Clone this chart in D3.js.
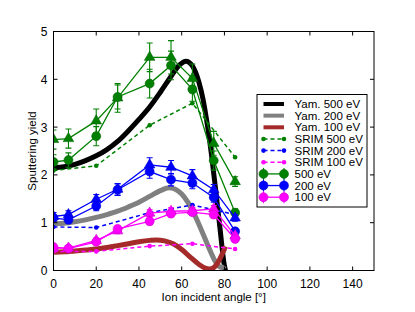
<!DOCTYPE html>
<html>
<head>
<meta charset="utf-8">
<script src="https://cdn.jsdelivr.net/npm/d3@7"></script>
<style>
  body { margin: 0; background: #fff; }
  svg { font-family: "Liberation Sans", Arial, sans-serif; }
</style>
</head>
<body>
<div id="chart"></div>
<script>
// measured angles
const angles = [0, 7, 20, 30, 45, 55, 65, 75, 85];
const srimAngles = [0, 20, 45, 65, 85];

// Yamamura fits [angle, yield]
const yam500 = [[0, 2.15], [5, 2.17], [10, 2.22], [15, 2.3], [20, 2.4], [25, 2.53], [30, 2.7], [35, 2.92], [40, 3.16], [45, 3.42], [50, 3.73], [55, 4.06], [59, 4.3], [62, 4.38], [65, 4.28], [68, 3.95], [70, 3.58], [72, 3.05], [74, 2.4], [76, 1.65], [78, 0.85], [80, 0.1], [80.5, 0]];
const yam200 = [[0, 0.98], [5, 0.99], [10, 1.02], [15, 1.06], [20, 1.11], [25, 1.17], [30, 1.24], [35, 1.33], [40, 1.43], [45, 1.55], [50, 1.67], [54, 1.73], [57, 1.7], [60, 1.6], [63, 1.42], [66, 1.17], [69, 0.87], [72, 0.55], [75, 0.25], [77, 0.1], [79, 0.06], [80, 0.1]];
const yam100 = [[0, 0.38], [5, 0.39], [10, 0.41], [15, 0.43], [20, 0.45], [25, 0.48], [30, 0.52], [35, 0.56], [40, 0.6], [45, 0.63], [48, 0.64], [52, 0.62], [56, 0.56], [60, 0.44], [64, 0.28], [68, 0.13], [71, 0.05], [73, 0.03], [75, 0.06], [77, 0.17], [79, 0.35], [80.5, 0.5]];

// SRIM
const srim500 = [2.09, 2.19, 3.04, 3.5, 2.37];
const srim200 = [0.91, 0.9, 1.21, 1.37, 1.17];
const srim100 = [0.4, 0.4, 0.51, 0.56, 0.45];

// measurements: circles and triangles
const meas500c = [2.27, 2.31, 2.81, 3.63, 3.91, 4.29, 3.79, 2.3, 1.21];
const err500c = [0.15, 0.15, 0.2, 0.25, 0.3, 0.3, 0.25, 0.2, 0.08];
const meas500t = [2.74, 2.76, 3.13, 3.61, 4.46, 4.46, 4.02, 2.66, 1.86];
const err500t = [0.2, 0.2, 0.25, 0.3, 0.3, 0.35, 0.3, 0.25, 0.1];
const meas200c = [1.1, 1.06, 1.35, 1.69, 2.07, 1.9, 1.83, 1.53, 0.82];
const err200c = [0.07, 0.07, 0.1, 0.12, 0.14, 0.13, 0.12, 0.1, 0.06];
const meas200t = [1.13, 1.17, 1.49, 1.7, 2.21, 2.16, 1.98, 1.69, 1.1];
const err200t = [0.08, 0.08, 0.1, 0.12, 0.15, 0.14, 0.13, 0.11, 0.07];
const meas100c = [0.49, 0.46, 0.6, 0.87, 1.03, 1.19, 1.22, 1.17, 0.66];
const err100c = [0.04, 0.04, 0.05, 0.06, 0.07, 0.07, 0.07, 0.07, 0.05];
const meas100t = [0.47, 0.47, 0.63, 0.83, 1.2, 1.24, 1.25, 1.29, 0.73];
const err100t = [0.04, 0.04, 0.05, 0.06, 0.07, 0.07, 0.07, 0.07, 0.05];

const xTicks = [0, 20, 40, 60, 80, 100, 120, 140];
const yTicks = [0, 1, 2, 3, 4, 5];
const legendLabels = ['Yam. 500 eV', 'Yam. 200 eV', 'Yam. 100 eV', 'SRIM 500 eV', 'SRIM 200 eV', 'SRIM 100 eV', '500 eV', '200 eV', '100 eV'];

const width = 415, height = 312;
const padding = { top: 31.5, right: 41, bottom: 41.5, left: 53.5 };
const chartWidth = width - padding.left - padding.right;
const chartHeight = height - padding.top - padding.bottom;

const green = '#008000', blue = '#0000ff', magenta = '#ff00ff';

const svg = d3.select('#chart').append('svg')
    .attr('width', width)
    .attr('height', height);

const xScale = d3.scaleLinear().domain([0, 150]).range([0, chartWidth]);
const yScale = d3.scaleLinear().domain([0, 5]).range([chartHeight, 0]);

const g = svg.append('g')
    .attr('transform', `translate(${padding.left},${padding.top})`);

svg.append('defs').append('clipPath').attr('id', 'clip')
    .append('rect').attr('width', chartWidth).attr('height', chartHeight);

const plot = g.append('g').attr('clip-path', 'url(#clip)');

const curve = d3.line()
    .x(d => xScale(d[0]))
    .y(d => yScale(d[1]))
    .curve(d3.curveMonotoneX);

// Yamamura curves
[[yam500, '#000000'], [yam200, '#808080'], [yam100, '#a52a2a']].forEach(([data, color]) => {
    plot.append('path')
        .datum(data)
        .attr('fill', 'none')
        .attr('stroke', color)
        .attr('stroke-width', 5)
        .attr('d', curve);
});

// SRIM dashed
const straight = d3.line().x(d => xScale(d[0])).y(d => yScale(d[1]));
[[srim500, green], [srim200, blue], [srim100, magenta]].forEach(([vals, color]) => {
    const pts = srimAngles.map((a, i) => [a, vals[i]]);
    plot.append('path')
        .datum(pts)
        .attr('fill', 'none')
        .attr('stroke', color)
        .attr('stroke-width', 1.5)
        .attr('stroke-dasharray', '4,3')
        .attr('d', straight);
    plot.selectAll(null)
        .data(pts)
        .enter()
        .append('circle')
        .attr('cx', d => xScale(d[0]))
        .attr('cy', d => yScale(d[1]))
        .attr('r', 2.3)
        .attr('fill', color);
});

const triangle = d3.symbol().type(d3.symbolTriangle).size(48);

const drawMeasured = (vals, errs, color, shape) => {
    const pts = angles.map((a, i) => [a, vals[i], errs[i]]);
    plot.append('path')
        .datum(pts)
        .attr('fill', 'none')
        .attr('stroke', color)
        .attr('stroke-width', 1.3)
        .attr('d', straight);
    const eb = plot.append('g').attr('stroke', color).attr('stroke-width', 1.1);
    pts.forEach(d => {
        const x = xScale(d[0]);
        const y0 = yScale(d[1] - d[2]), y1 = yScale(d[1] + d[2]);
        eb.append('line').attr('x1', x).attr('x2', x).attr('y1', y0).attr('y2', y1);
        eb.append('line').attr('x1', x - 3).attr('x2', x + 3).attr('y1', y0).attr('y2', y0);
        eb.append('line').attr('x1', x - 3).attr('x2', x + 3).attr('y1', y1).attr('y2', y1);
    });
    const edge = d3.color(color).darker(0.6);
    if (shape === 'circle') {
        plot.selectAll(null)
            .data(pts)
            .enter()
            .append('circle')
            .attr('cx', d => xScale(d[0]))
            .attr('cy', d => yScale(d[1]))
            .attr('r', 4.5)
            .attr('fill', color)
            .attr('stroke', edge)
            .attr('stroke-width', 0.6);
    } else {
        plot.selectAll(null)
            .data(pts)
            .enter()
            .append('path')
            .attr('d', triangle)
            .attr('transform', d => `translate(${xScale(d[0])},${yScale(d[1])})`)
            .attr('fill', color)
            .attr('stroke', edge)
            .attr('stroke-width', 0.6);
    }
};

drawMeasured(meas500t, err500t, green, 'triangle');
drawMeasured(meas500c, err500c, green, 'circle');
drawMeasured(meas200t, err200t, blue, 'triangle');
drawMeasured(meas200c, err200c, blue, 'circle');
drawMeasured(meas100t, err100t, magenta, 'triangle');
drawMeasured(meas100c, err100c, magenta, 'circle');

// axes frame
g.append('rect')
    .attr('width', chartWidth)
    .attr('height', chartHeight)
    .attr('fill', 'none')
    .attr('stroke', '#000')
    .attr('stroke-width', 1);

// inward ticks on all sides
const tickLen = 4;
xTicks.forEach(t => {
    const x = xScale(t);
    g.append('line').attr('x1', x).attr('x2', x).attr('y1', chartHeight).attr('y2', chartHeight - tickLen).attr('stroke', '#000');
    g.append('line').attr('x1', x).attr('x2', x).attr('y1', 0).attr('y2', tickLen).attr('stroke', '#000');
    g.append('text')
        .attr('x', x)
        .attr('y', chartHeight + 17)
        .attr('text-anchor', 'middle')
        .attr('font-size', 12)
        .text(t);
});
yTicks.forEach(t => {
    const y = yScale(t);
    g.append('line').attr('x1', 0).attr('x2', tickLen).attr('y1', y).attr('y2', y).attr('stroke', '#000');
    g.append('line').attr('x1', chartWidth).attr('x2', chartWidth - tickLen).attr('y1', y).attr('y2', y).attr('stroke', '#000');
    g.append('text')
        .attr('x', -6)
        .attr('y', y + 4.5)
        .attr('text-anchor', 'end')
        .attr('font-size', 12)
        .text(t);
});

svg.append('text')
    .attr('x', padding.left + chartWidth / 2)
    .attr('y', 301)
    .attr('text-anchor', 'middle')
    .attr('font-size', 11.5)
    .text('Ion incident angle [°]');

svg.append('text')
    .attr('transform', `translate(35.5,${padding.top + chartHeight / 2}) rotate(-90)`)
    .attr('text-anchor', 'middle')
    .attr('font-size', 11.5)
    .text('Sputtering yield');

// legend
const legend = svg.append('g').attr('transform', 'translate(257,94.5)');
legend.append('rect')
    .attr('width', 110)
    .attr('height', 112.5)
    .attr('fill', '#fff')
    .attr('stroke', '#000')
    .attr('stroke-width', 1);

const legendStyles = [
    { color: '#000000', kind: 'thick' },
    { color: '#808080', kind: 'thick' },
    { color: '#a52a2a', kind: 'thick' },
    { color: green, kind: 'dash' },
    { color: blue, kind: 'dash' },
    { color: magenta, kind: 'dash' },
    { color: green, kind: 'meas' },
    { color: blue, kind: 'meas' },
    { color: magenta, kind: 'meas' }
];

legendLabels.forEach((label, i) => {
    const y = 9.5 + i * 11.65;
    const s = legendStyles[i];
    const x0 = 6.5, x1 = 27;
    if (s.kind === 'thick') {
        legend.append('line').attr('x1', x0).attr('x2', x1).attr('y1', y).attr('y2', y)
            .attr('stroke', s.color).attr('stroke-width', 4);
    } else if (s.kind === 'dash') {
        legend.append('line').attr('x1', x0).attr('x2', x1).attr('y1', y).attr('y2', y)
            .attr('stroke', s.color).attr('stroke-width', 1.5).attr('stroke-dasharray', '4,3');
        [x0, x1].forEach(x => legend.append('circle').attr('cx', x).attr('cy', y).attr('r', 2.3).attr('fill', s.color));
    } else {
        legend.append('line').attr('x1', x0).attr('x2', x1).attr('y1', y).attr('y2', y)
            .attr('stroke', s.color).attr('stroke-width', 1.3);
        [x0, x1].forEach(x => {
            legend.append('line').attr('x1', x).attr('x2', x).attr('y1', y - 6).attr('y2', y + 6)
                .attr('stroke', s.color).attr('stroke-width', 1.1);
            legend.append('circle').attr('cx', x).attr('cy', y).attr('r', 4.5)
                .attr('fill', s.color).attr('stroke', d3.color(s.color).darker(0.6)).attr('stroke-width', 0.6);
        });
    }
    legend.append('text')
        .attr('x', 37.5)
        .attr('y', y + 4)
        .attr('font-size', 11.5)
        .text(label);
});
</script>
</body>
</html>
